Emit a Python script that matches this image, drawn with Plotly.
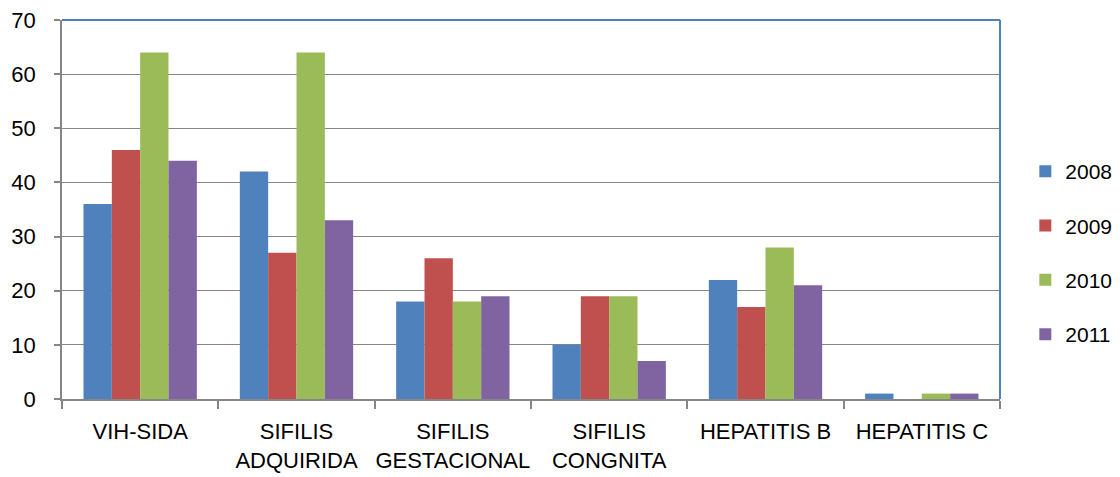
import plotly.graph_objects as go

categories = ["VIH-SIDA", "SIFILIS<br>ADQUIRIDA", "SIFILIS<br>GESTACIONAL", "SIFILIS<br>CONGNITA", "HEPATITIS B", "HEPATITIS C"]
years = ["2008", "2009", "2010", "2011"]
v2008 = [36, 42, 18, 10, 22, 1]
v2009 = [46, 27, 26, 19, 17, 0]
v2010 = [64, 64, 18, 19, 28, 1]
v2011 = [44, 33, 19, 7, 21, 1]
series = [v2008, v2009, v2010, v2011]
colors = ["#4F81BD", "#C0504D", "#9BBB59", "#8064A2"]

fig = go.Figure()
for i, (yr, vals) in enumerate(zip(years, series)):
    fig.add_trace(go.Bar(x=categories, y=vals, name=yr, marker_color=colors[i],
                         marker_line_width=0, legendgroup=yr))

font = "Liberation Sans"
# page body has an 8px margin, so the figure is shrunk by 8px on each axis
fig.update_layout(
    width=1112, height=469,
    margin=dict(l=54, r=120, t=12, b=78, autoexpand=False),
    paper_bgcolor="white", plot_bgcolor="white",
    barmode="group", bargap=0.275, bargroupgap=0,
    font=dict(family=font, size=21, color="black"),
    legend=dict(x=1.027, xanchor="left", y=0.385, yanchor="middle",
                font=dict(size=21), tracegroupgap=24, itemwidth=30),
    showlegend=True,
)
fig.update_xaxes(showline=True, linecolor="#868686", linewidth=1.5,
                 ticks="outside", tickson="boundaries", ticklen=8, tickcolor="#868686",
                 tickwidth=1.5, tickfont=dict(size=22), tickangle=0, showgrid=False,
                 ticklabelstandoff=12, ticklabeloverflow="allow", automargin=False)
fig.update_yaxes(range=[0, 70], dtick=10, showline=True, linecolor="#868686", linewidth=1.5,
                 ticks="outside", ticklen=6, tickcolor="#868686", tickwidth=1.5,
                 showgrid=True, gridcolor="#868686", gridwidth=1.3, zeroline=False,
                 tickfont=dict(size=22), ticklabelstandoff=14, ticklabeloverflow="allow",
                 automargin=False)
fig.add_shape(type="line", xref="paper", yref="paper", x0=0, x1=1, y0=1, y1=1,
              line=dict(color="#4F81BD", width=2))
fig.add_shape(type="line", xref="paper", yref="paper", x0=1, x1=1, y0=0, y1=1,
              line=dict(color="#4F81BD", width=2))
fig.write_html("out.html")
